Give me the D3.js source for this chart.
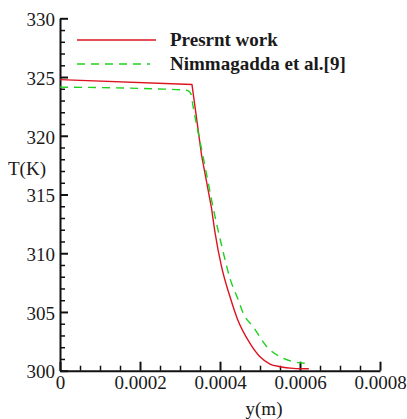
<!DOCTYPE html>
<html>
<head>
    <meta charset="utf-8">
    <title>T(K) vs y(m)</title>
    <style>
        html, body {
            margin: 0;
            padding: 0;
            background: #fff;
        }

        svg text {
            font-family: "Liberation Serif", "DejaVu Serif", serif;
            fill: #1a1a1a;
        }
    </style>
    <script src="https://d3js.org/d3.v7.min.js"></script>
</head>
<body>
<svg id="chart"></svg>
<script>
    // Values
    const presentY = [0, 0.00033, 0.000354, 0.000379, 0.000388, 0.000404, 0.000425, 0.000443,
        0.000475, 0.0005, 0.000525, 0.00055, 0.000583, 0.000622];
    const presentT = [324.78, 324.36, 318.33, 313.8, 311.67, 308.84, 306.29, 304.45,
        302.33, 301.19, 300.57, 300.34, 300.2, 300.16];

    const nimY = [0, 0.00024, 0.000317, 0.000327, 0.000333, 0.000346, 0.000358, 0.000371, 0.000383,
        0.000404, 0.000425, 0.000446, 0.000458, 0.000483, 0.000517, 0.00055, 0.000583, 0.000613];
    const nimT = [324.14, 323.99, 323.88, 323.6, 322.43, 320.17, 318.18, 315.92, 313.85,
        310.68, 307.85, 306.0, 304.9, 303.74, 302.04, 301.19, 300.77, 300.63];

    const xTicks = [0, 0.0002, 0.0004, 0.0006, 0.0008];
    const yTicks = [300, 305, 310, 315, 320, 325, 330];
    const seriesNames = ['Presrnt work', 'Nimmagadda et al.[9]'];

    const WIDTH = 407;
    const HEIGHT = 419;
    const COLORS = ['#dc1420', '#1ed21e'];
    const DASH = '8,6';

    const svg = d3.select('#chart')
        .attr('width', WIDTH)
        .attr('height', HEIGHT);

    const x = d3.scaleLinear().domain([0, 0.0008]).range([60, 380]);
    const y = d3.scaleLinear().domain([300, 330]).range([370.7, 18.3]);

    const fmtX = d => d === 0 ? '0' : d3.format('.4f')(d);

    // minor ticks first, then the labelled ones on top
    const xMinor = d3.range(0, 0.00081, 0.00005).filter(v => Math.abs(v / 0.0002 - Math.round(v / 0.0002)) > 1e-6);
    const yMinor = d3.range(300, 331, 1).filter(v => v % 5 !== 0);

    svg.append('g')
        .attr('transform', `translate(0,${y(300)})`)
        .call(d3.axisBottom(x).tickValues(xMinor).tickSize(-5).tickFormat(''))
        .call(g => g.select('.domain').remove())
        .call(g => g.selectAll('line').attr('stroke', '#111').attr('stroke-width', 1.5));

    svg.append('g')
        .attr('transform', `translate(${x(0)},0)`)
        .call(d3.axisLeft(y).tickValues(yMinor).tickSize(-5).tickFormat(''))
        .call(g => g.select('.domain').remove())
        .call(g => g.selectAll('line').attr('stroke', '#111').attr('stroke-width', 1.5));

    const xAxis = svg.append('g')
        .attr('transform', `translate(0,${y(300)})`)
        .call(d3.axisBottom(x).tickValues(xTicks).tickSize(-9).tickSizeOuter(0).tickPadding(5).tickFormat(fmtX));

    const yAxis = svg.append('g')
        .attr('transform', `translate(${x(0)},0)`)
        .call(d3.axisLeft(y).tickValues(yTicks).tickSize(-8).tickSizeOuter(0).tickPadding(5));

    [xAxis, yAxis].forEach(g => {
        g.select('.domain').attr('stroke', '#111').attr('stroke-width', 2);
        g.selectAll('.tick line').attr('stroke', '#111').attr('stroke-width', 2);
        g.selectAll('.tick text')
            .attr('font-family', '"Liberation Serif", serif')
            .attr('font-size', 19)
            .attr('fill', '#1a1a1a');
    });
    yAxis.selectAll('.tick text').attr('dy', '0.38em');

    // axis titles
    svg.append('text')
        .attr('x', 8)
        .attr('y', 175)
        .attr('font-size', 19)
        .text('T(K)');

    svg.append('text')
        .attr('x', 264)
        .attr('y', 415)
        .attr('text-anchor', 'middle')
        .attr('font-size', 19)
        .text('y(m)');

    // curves
    const straight = d3.line()
        .x(d => x(d[0]))
        .y(d => y(d[1]));
    const smooth = d3.line()
        .curve(d3.curveMonotoneX)
        .x(d => x(d[0]))
        .y(d => y(d[1]));

    const present = d3.zip(presentY, presentT);
    const nim = d3.zip(nimY, nimT);

    // red: sharp kink, straight plunge, then a smooth tail
    svg.append('path')
        .attr('fill', 'none')
        .attr('stroke', COLORS[0])
        .attr('stroke-width', 1.4)
        .attr('stroke-linejoin', 'round')
        .attr('d', straight(present.slice(0, 4)) + smooth(present.slice(3)).replace(/^M[^CL]*/, 'L' + x(present[3][0]) + ',' + y(present[3][1])));

    svg.append('path')
        .datum(nim)
        .attr('fill', 'none')
        .attr('stroke', COLORS[1])
        .attr('stroke-width', 1.4)
        .attr('stroke-dasharray', DASH)
        .attr('d', smooth);

    // legend
    const legend = svg.append('g');
    const legendRows = [
        {y: 40, x2: 156, base: 46},
        {y: 64, x2: 150, base: 70}
    ];
    seriesNames.forEach((name, i) => {
        const r = legendRows[i];
        legend.append('line')
            .attr('x1', 77)
            .attr('x2', r.x2)
            .attr('y1', r.y)
            .attr('y2', r.y)
            .attr('stroke', COLORS[i])
            .attr('stroke-width', 1.4)
            .attr('stroke-dasharray', i === 1 ? DASH : null);
        legend.append('text')
            .attr('x', 170)
            .attr('y', r.base)
            .attr('font-size', 19)
            .attr('font-weight', 'bold')
            .text(name);
    });
</script>
</body>
</html>
